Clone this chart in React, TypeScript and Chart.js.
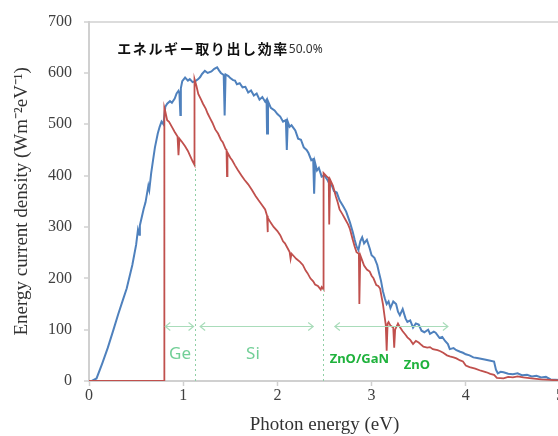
import React, { useEffect, useRef } from "react";
import { Chart, registerables } from "chart.js";

Chart.register(...registerables);

// Blue: incident solar spectrum (energy current density)
const blueX = [0, 0.03, 0.08, 0.14, 0.2, 0.26, 0.31, 0.36, 0.4, 0.46, 0.5, 0.52, 0.535, 0.54, 0.58, 0.6, 0.63, 0.64, 0.66, 0.68, 0.7, 0.73, 0.75, 0.77, 0.79, 0.81, 0.83, 0.86, 0.88, 0.91, 0.93, 0.95, 0.96, 0.97, 0.975, 0.99, 1.02, 1.05, 1.07, 1.1, 1.13, 1.16, 1.18, 1.2, 1.23, 1.26, 1.3, 1.33, 1.36, 1.38, 1.4, 1.43, 1.44, 1.45, 1.48, 1.5, 1.53, 1.55, 1.57, 1.6, 1.63, 1.66, 1.69, 1.72, 1.75, 1.78, 1.81, 1.84, 1.87, 1.885, 1.89, 1.9, 1.93, 1.97, 2.0, 2.03, 2.06, 2.09, 2.1, 2.11, 2.13, 2.15, 2.19, 2.22, 2.25, 2.28, 2.31, 2.33, 2.36, 2.38, 2.39, 2.4, 2.42, 2.44, 2.47, 2.5, 2.53, 2.55, 2.58, 2.6, 2.63, 2.66, 2.7, 2.73, 2.77, 2.8, 2.82, 2.84, 2.86, 2.88, 2.9, 2.92, 2.95, 2.98, 3.0, 3.03, 3.06, 3.08, 3.1, 3.12, 3.14, 3.16, 3.18, 3.2, 3.23, 3.26, 3.28, 3.3, 3.33, 3.36, 3.38, 3.41, 3.44, 3.47, 3.5, 3.53, 3.56, 3.6, 3.62, 3.66, 3.68, 3.72, 3.75, 3.78, 3.81, 3.83, 3.87, 3.9, 3.94, 3.97, 4.0, 4.04, 4.08, 4.12, 4.2, 4.25, 4.3, 4.32, 4.34, 4.37, 4.4, 4.45, 4.5, 4.55, 4.6, 4.65, 4.7, 4.75, 4.8, 4.85, 4.9, 5.0];
const blueY = [0, 0, 5, 34, 65, 100, 130, 158, 180, 226, 265, 295, 285, 303, 335, 348, 380, 372, 405, 430, 455, 482, 495, 505, 500, 534, 540, 545, 542, 550, 560, 565, 560, 518, 570, 584, 591, 585, 588, 582, 584, 588, 592, 598, 604, 600, 603, 608, 611, 605, 600, 596, 517, 597, 594, 590, 586, 585, 578, 580, 572, 573, 562, 566, 556, 560, 548, 553, 544, 548, 482, 545, 532, 527, 520, 515, 505, 508, 450, 505, 495, 498, 488, 472, 470, 455, 450, 444, 430, 432, 365, 425, 410, 415, 398, 400, 392, 385, 380, 370, 367, 352, 340, 330, 309, 290, 275, 262, 255, 272, 280, 268, 275, 258, 245, 240, 226, 210, 195, 175, 161, 150, 155, 142, 155, 150, 135, 128, 140, 122, 115, 118, 104, 112, 110, 98, 95, 100, 92, 96, 94, 84, 86, 78, 72, 62, 64, 60, 57, 55, 52, 50, 46, 45, 42, 40, 38, 22, 15, 18, 17, 14, 13, 15, 11, 12, 9, 10, 7, 8, 3, 2];

// Red: energy extracted by the Ge / Si / ZnO-GaN / ZnO cells
const redX = [0, 0.8, 0.8, 0.81, 0.83, 0.85, 0.88, 0.91, 0.94, 0.95, 0.96, 0.99, 1.02, 1.05, 1.07, 1.1, 1.12, 1.12, 1.14, 1.16, 1.19, 1.21, 1.24, 1.26, 1.29, 1.31, 1.34, 1.37, 1.4, 1.42, 1.45, 1.46, 1.465, 1.47, 1.5, 1.52, 1.55, 1.58, 1.62, 1.65, 1.69, 1.73, 1.77, 1.8, 1.84, 1.87, 1.89, 1.895, 1.9, 1.93, 1.96, 2.0, 2.03, 2.06, 2.08, 2.11, 2.13, 2.14, 2.15, 2.18, 2.2, 2.24, 2.27, 2.3, 2.32, 2.35, 2.38, 2.4, 2.43, 2.46, 2.47, 2.49, 2.49, 2.52, 2.545, 2.55, 2.56, 2.59, 2.62, 2.64, 2.66, 2.69, 2.72, 2.75, 2.77, 2.8, 2.82, 2.84, 2.865, 2.87, 2.88, 2.9, 2.92, 2.95, 2.98, 3.0, 3.02, 3.05, 3.07, 3.09, 3.11, 3.12, 3.14, 3.15, 3.16, 3.17, 3.18, 3.2, 3.23, 3.24, 3.25, 3.28, 3.3, 3.33, 3.36, 3.38, 3.41, 3.44, 3.47, 3.5, 3.53, 3.55, 3.59, 3.62, 3.65, 3.7, 3.73, 3.76, 3.8, 3.83, 3.87, 3.9, 3.94, 3.97, 4.0, 4.04, 4.1, 4.16, 4.22, 4.26, 4.3, 4.33, 4.4, 4.45, 4.5, 4.55, 4.61, 4.7, 4.8, 4.9, 5.0];
const redY = [0, 0, 532, 525, 508, 505, 495, 485, 476, 440, 472, 465, 457, 448, 440, 428, 421, 588, 575, 559, 548, 540, 530, 521, 510, 503, 490, 482, 470, 465, 452, 450, 399, 445, 435, 430, 420, 411, 400, 392, 383, 372, 360, 352, 342, 334, 322, 290, 318, 308, 300, 292, 284, 272, 268, 258, 251, 238, 248, 242, 238, 232, 226, 215, 210, 200, 194, 188, 185, 178, 183, 178, 405, 399, 395, 305, 392, 380, 360, 348, 334, 325, 315, 305, 296, 275, 262, 251, 248, 150, 245, 235, 225, 217, 213, 205, 200, 187, 185, 180, 160, 150, 123, 110, 59, 112, 115, 108, 104, 65, 100, 112, 105, 97, 90, 85, 80, 72, 78, 75, 70, 67, 65, 66, 62, 60, 58, 55, 50, 48, 46, 44, 40, 38, 30, 27, 24, 20, 17, 14, 12, 6, 5, 8, 7, 9, 7, 5, 3, 2, 1];

const xTicks = [0, 1, 2, 3, 4, 5];
const yTicks = [0, 100, 200, 300, 400, 500, 600, 700];

// Annotations (data coordinates)
const gapLinesX = [1.125, 2.485];
const gapLinesTop = [421, 178];
const arrowsFrom = [0.81, 1.18, 2.61];
const arrowsTo = [1.11, 2.38, 3.81];
const arrowY = 107;
const labelTexts = ["Ge", "Si", "ZnO/GaN", "ZnO"];
const labelX = [0.966, 1.74, 2.87, 3.48];
const labelY = [53, 53, 43, 30];
const titleMain = "エネルギー取り出し効率";
const titleValue = "50.0%";
const titlePos = [0.3, 648];

const annotPlugin = {
  id: "annot",
  afterDatasetsDraw(chart: any) {
    const { ctx, scales } = chart;
    const xs = scales.x;
    const ys = scales.y;
    ctx.save();
    ctx.strokeStyle = "#8fcfa5";
    ctx.lineWidth = 1;
    ctx.setLineDash([2, 3]);
    gapLinesX.forEach((gx, i) => {
      const px = Math.round(xs.getPixelForValue(gx)) + 0.5;
      ctx.beginPath();
      ctx.moveTo(px, ys.getPixelForValue(0));
      ctx.lineTo(px, ys.getPixelForValue(gapLinesTop[i]));
      ctx.stroke();
    });
    ctx.setLineDash([]);
    ctx.strokeStyle = "#a9dcba";
    ctx.lineWidth = 1.2;
    const py = Math.round(ys.getPixelForValue(arrowY)) + 0.5;
    arrowsFrom.forEach((a, i) => {
      const x1 = xs.getPixelForValue(a);
      const x2 = xs.getPixelForValue(arrowsTo[i]);
      ctx.beginPath();
      ctx.moveTo(x1, py);
      ctx.lineTo(x2, py);
      ctx.moveTo(x1 + 5, py - 4);
      ctx.lineTo(x1, py);
      ctx.lineTo(x1 + 5, py + 4);
      ctx.moveTo(x2 - 5, py - 4);
      ctx.lineTo(x2, py);
      ctx.lineTo(x2 - 5, py + 4);
      ctx.stroke();
    });
    ctx.textAlign = "center";
    ctx.textBaseline = "middle";
    labelTexts.forEach((t, i) => {
      const lx = xs.getPixelForValue(labelX[i]);
      const ly = ys.getPixelForValue(labelY[i]);
      if (i < 2) {
        ctx.fillStyle = "#72cf97";
        ctx.font = '17px "Noto Sans", sans-serif';
      } else {
        ctx.fillStyle = "#1fb23c";
        ctx.font = 'bold 13px "Noto Sans", sans-serif';
      }
      ctx.fillText(t, lx, ly);
    });
    const tx = xs.getPixelForValue(titlePos[0]);
    const ty = ys.getPixelForValue(titlePos[1]);
    ctx.textAlign = "left";
    ctx.fillStyle = "#111111";
    ctx.font = 'bold 14px "Noto Sans CJK JP", sans-serif';
    (ctx as any).letterSpacing = "1.6px";
    ctx.fillText(titleMain, tx, ty);
    const w = ctx.measureText(titleMain).width;
    (ctx as any).letterSpacing = "0px";
    ctx.font = '12px "Noto Sans", sans-serif';
    ctx.fillStyle = "#333333";
    ctx.fillText(titleValue, tx + w, ty + 1);
    ctx.restore();
  },
};

export default function App() {
  const ref = useRef<HTMLCanvasElement>(null);
  useEffect(() => {
    if (!ref.current) return;
    const chart = new Chart(ref.current, {
      type: "line",
      data: {
        datasets: [
          {
            label: "extracted",
            data: redX.map((x, i) => ({ x, y: redY[i] })),
            borderColor: "#c0504d",
            borderWidth: 1.8,
            pointRadius: 0,
            tension: 0,
          },
          {
            label: "solar",
            data: blueX.map((x, i) => ({ x, y: blueY[i] })),
            borderColor: "#4f81bd",
            borderWidth: 2,
            pointRadius: 0,
            tension: 0,
          },
        ],
      },
      options: {
        animation: false,
        responsive: false,
        layout: { padding: { top: 17, right: 40, bottom: 0, left: 0 } },
        plugins: { legend: { display: false }, tooltip: { enabled: false } },
        scales: {
          x: {
            type: "linear",
            min: 0,
            max: 5,
            afterBuildTicks: (s: any) => {
              s.ticks = xTicks.map((v) => ({ value: v }));
            },
            afterFit: (s: any) => {
              s.height = 55;
            },
            ticks: {
              padding: 0,
              font: { family: '"Liberation Serif", serif', size: 16 },
              color: "#404040",
            },
            grid: {
              drawOnChartArea: false,
              tickLength: 5,
              tickColor: "#d0d0d0",
              tickWidth: 1.5,
            },
            border: { color: "#d0d0d0", width: 2 },
            title: {
              display: true,
              text: "Photon energy (eV)",
              font: { family: '"Liberation Serif", serif', size: 19 },
              color: "#333333",
              padding: { top: 0, bottom: 0 },
            },
          },
          y: {
            min: 0,
            max: 700,
            afterBuildTicks: (s: any) => {
              s.ticks = yTicks.map((v) => ({ value: v }));
            },
            afterFit: (s: any) => {
              s.width = 89;
            },
            ticks: {
              padding: 12,
              font: { family: '"Liberation Serif", serif', size: 16 },
              color: "#404040",
            },
            grid: {
              color: (c: any) => (c.tick && c.tick.value === 700 ? "#dcdcdc" : "rgba(0,0,0,0)"),
              lineWidth: 2,
              tickLength: 5,
              tickColor: "#d0d0d0",
              tickWidth: 1.5,
            },
            border: { color: "#d0d0d0", width: 2 },
            title: {
              display: true,
              text: "Energy current density (Wm⁻²eV⁻¹)",
              font: { family: '"Liberation Serif", serif', size: 19 },
              color: "#333333",
              padding: { top: 11, bottom: 0 },
            },
          },
        },
      },
      plugins: [annotPlugin],
    });
    return () => chart.destroy();
  }, []);
  return (
    <div style={{ position: "absolute", left: 0, top: 0, width: 558, height: 436, overflow: "hidden", background: "#fff" }}>
      <canvas ref={ref} width={600} height={436} style={{ width: 600, height: 436, display: "block" }} />
    </div>
  );
}
